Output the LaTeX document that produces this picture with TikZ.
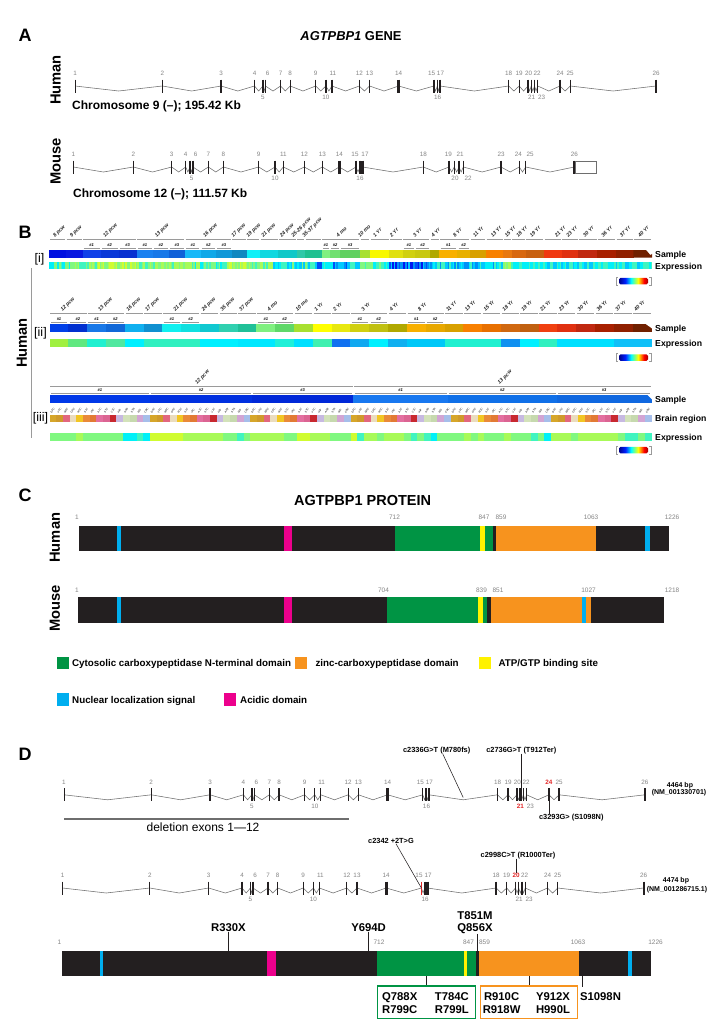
\documentclass[tikz,border=0pt]{standalone}
\usepackage{fontspec}
\setmainfont{Liberation Sans}
\usetikzlibrary{calc}
\definecolor{pblack}{HTML}{231F20}
\definecolor{pgreen}{HTML}{009444}
\definecolor{porange}{HTML}{F7931E}
\definecolor{pyellow}{HTML}{FFF200}
\definecolor{pblue}{HTML}{00AEEF}
\definecolor{pmag}{HTML}{EC008C}
\definecolor{exgray}{HTML}{858585}
\definecolor{intgray}{HTML}{6E6E6E}
\definecolor{lngray}{HTML}{9A9A9A}
\definecolor{mred}{HTML}{E32626}
\definecolor{jetA}{HTML}{00008C}
\definecolor{jetB}{HTML}{0020FF}
\definecolor{jetR}{HTML}{A00000}
\definecolor{lev0}{HTML}{0018F0}
\definecolor{lev1}{HTML}{0050F8}
\definecolor{lev2}{HTML}{0090F8}
\definecolor{lev3}{HTML}{00C8FF}
\definecolor{lev4}{HTML}{00F0F8}
\definecolor{lev5}{HTML}{40F4C0}
\definecolor{lev6}{HTML}{80F880}
\definecolor{lev7}{HTML}{A8FA58}
\definecolor{lev8}{HTML}{D0FC30}
\definecolor{lev9}{HTML}{F8F800}
\definecolor{br0}{HTML}{D6A62A}
\definecolor{br1}{HTML}{CF9A2C}
\definecolor{br2}{HTML}{E2677F}
\definecolor{br3}{HTML}{EADCBE}
\definecolor{br4}{HTML}{F2C624}
\definecolor{br5}{HTML}{E98A3A}
\definecolor{br6}{HTML}{E27A34}
\definecolor{br7}{HTML}{E36FA0}
\definecolor{br8}{HTML}{DB6492}
\definecolor{br9}{HTML}{C8282F}
\definecolor{br10}{HTML}{C7B9E1}
\definecolor{br11}{HTML}{D3E2BA}
\definecolor{br12}{HTML}{C6D9AE}
\definecolor{br13}{HTML}{D2A5D4}
\definecolor{br14}{HTML}{A6BEEA}
\colorlet{bXV}{pblack}
\colorlet{lXX}{exgray}
\colorlet{lXXI}{exgray}
\colorlet{lXXIV}{exgray}
\def\fN{m}
\def\fXX{m}
\def\fXXI{m}
\def\fXXIV{m}
\pgfdeclarehorizontalshading{jet}{100bp}{color(0bp)=(jetA); color(25bp)=(jetA); color(36bp)=(jetB); color(46bp)=(cyan); color(58bp)=(yellow); color(68bp)=(red); color(75bp)=(jetR); color(100bp)=(jetR)}
\newcommand\fs[1]{\fontsize{#1}{#1}\selectfont}
\newcommand\brlab[1]{\ifcase#1 DFC\or VFC\or MFC\or OFC\or M1C\or S1C\or IPC\or A1C\or STC\or V1C\or HIP\or AMY\or STR\or MD\or CBC\fi}
\tikzset{
 exlab/.style={font=\fs{6.3}, text=exgray, inner sep=0pt, anchor=base},
 intron/.style={draw=intgray, line width=0.55pt},
 panel/.style={font=\fs{18}\bfseries, inner sep=0pt, anchor=base west},
 species/.style={font=\fs{14.7}\bfseries, rotate=90, inner sep=0pt},
 chrom/.style={font=\fs{12}\bfseries, inner sep=0pt, anchor=base west},
 title/.style={font=\fs{14}\bfseries, inner sep=0pt, anchor=base},
 age/.style={font=\fs{5.2}\bfseries\itshape, text=black!85, rotate=45, anchor=base west, inner sep=0pt},
 hashlab/.style={font=\fs{4}\bfseries\itshape, anchor=base, inner sep=0pt},
 brl/.style={font=\fs{2.6}, rotate=55, anchor=base west, inner sep=0pt},
 rowlab/.style={font=\fs{8.7}\bfseries, anchor=base west, inner sep=0pt},
 grpline/.style={draw=lngray, line width=0.6pt},
 romlab/.style={font=\fs{12.5}, inner sep=0pt, anchor=base},
 numlab/.style={font=\fs{6.5}, text=exgray, inner sep=0pt, anchor=base},
 legtext/.style={font=\fs{9.8}\bfseries, anchor=base west, inner sep=0pt},
 mutsmall/.style={font=\fs{7.4}\bfseries, inner sep=0pt, anchor=base},
 mutbig/.style={font=\fs{11.3}\bfseries, inner sep=0pt, anchor=base},
 conn/.style={draw=pblack, line width=0.55pt},
}
\def\humanlist{75.1/75.1/1/t/1.0/pblack/exgray/\fN,%
162.3/162.3/2/t/1.3/pblack/exgray/\fN,%
221.1/221.1/3/t/1.3/pblack/exgray/\fN,%
254.5/254.5/4/t/1.3/pblack/exgray/\fN,%
262.9/262.9/5/b/1.6/pblack/exgray/\fN,%
265.5/267.5/6/t/1.6/pblack/exgray/\fN,%
280.5/280.5/7/t/1.3/pblack/exgray/\fN,%
290.2/290.2/8/t/1.3/pblack/exgray/\fN,%
315.7/315.7/9/t/1.3/pblack/exgray/\fN,%
325.9/325.9/10/b/1.3/pblack/exgray/\fN,%
331.9/332.8/11/t/1.3/pblack/exgray/\fN,%
359.3/359.3/12/t/1.3/pblack/exgray/\fN,%
369.5/369.5/13/t/1.3/pblack/exgray/\fN,%
398.7/398.7/14/t/3.0/pblack/exgray/\fN,%
433.9/431.5/15/t/1.3/bXV/exgray/\fN,%
437.3/437.6/16/b/1.5/pblack/exgray/\fN,%
440.0/440.5/17/t/2.4/pblack/exgray/\fN,%
508.6/508.6/18/t/1.3/pblack/exgray/\fN,%
519.2/519.2/19/t/1.3/pblack/exgray/\fN,%
528.0/528.5/20/t/1.3/pblack/lXX/\fXX,%
531.2/531.5/21/b/1.3/pblack/lXXI/\fXXI,%
534.5/537.2/22/t/1.3/pblack/exgray/\fN,%
537.7/541.5/23/b/1.3/pblack/exgray/\fN,%
560.0/560.0/24/t/1.3/pblack/lXXIV/\fXXIV,%
570.2/570.2/25/t/1.3/pblack/exgray/\fN,%
656.0/656.0/26/t/2.0/pblack/exgray/\fN}
\def\mouselist{73.3/73.3/1/t/1.0/pblack/exgray/\fN,%
133.3/133.3/2/t/1.3/pblack/exgray/\fN,%
171.7/171.7/3/t/1.3/pblack/exgray/\fN,%
185.7/185.7/4/t/1.3/pblack/exgray/\fN,%
190.0/191.5/5/b/1.3/pblack/exgray/\fN,%
192.9/195.7/6/t/1.3/pblack/exgray/\fN,%
208.3/208.3/7/t/1.3/pblack/exgray/\fN,%
223.3/223.3/8/t/1.3/pblack/exgray/\fN,%
258.7/258.7/9/t/1.3/pblack/exgray/\fN,%
275.0/275.0/10/b/1.3/pblack/exgray/\fN,%
283.3/283.3/11/t/1.3/pblack/exgray/\fN,%
304.3/304.3/12/t/1.3/pblack/exgray/\fN,%
322.3/322.3/13/t/1.3/pblack/exgray/\fN,%
339.3/339.3/14/t/3.5/pblack/exgray/\fN,%
356.0/355.0/15/t/1.3/pblack/exgray/\fN,%
360.0/360.0/16/b/1.5/pblack/exgray/\fN,%
362.7/365.0/17/t/2.5/pblack/exgray/\fN,%
423.3/423.3/18/t/1.3/pblack/exgray/\fN,%
449.0/448.3/19/t/1.3/pblack/exgray/\fN,%
454.3/455.0/20/b/1.3/pblack/exgray/\fN,%
459.0/460.0/21/t/1.3/pblack/exgray/\fN,%
463.3/468.0/22/b/1.3/pblack/exgray/\fN,%
501.0/501.0/23/t/1.3/pblack/exgray/\fN,%
519.3/518.3/24/t/1.3/pblack/exgray/\fN,%
525.7/530.0/25/t/1.3/pblack/exgray/\fN,%
574.3/574.3/26/t/2.0/pblack/exgray/\fN}
\newcommand\drawgene[4]{%
  \foreach \ex/\lx/\lab/\pos/\w/\bc/\lc/\fw [remember=\ex as \lastx (initially #3)] in \exlist {%
    \draw[intron] ({\lastx+#1},#2) -- ({(\lastx+\ex)/2+#1},{#2+5}) -- ({\ex+#1},#2);
  }%
  \foreach \ex/\lx/\lab/\pos/\w/\bc/\lc/\fw in \exlist {%
    \draw[draw=\bc, line width=\w pt] ({\ex+#1},{#2-6.5}) coordinate (#4e\lab-t) -- ({\ex+#1},{#2+6.5}) coordinate (#4e\lab-b);
    \coordinate (#4e\lab) at ({\ex+#1},#2);
    \if\pos t\relax
      \node[exlab, text=\lc] (#4l\lab) at ({\lx+#1},{#2-10.6}) {\fontseries{\fw}\selectfont\lab};
    \else
      \node[exlab, text=\lc] (#4l\lab) at ({\lx+#1},{#2+13.3}) {\fontseries{\fw}\selectfont\lab};
    \fi
  }%
}
\newcommand\stripes[6]{%
  \pgfmathtruncatemacro\nst{(#2-#1)/1.6}%
  \foreach \i in {0,...,\nst}{%
    \pgfmathrandominteger{\lv}{#5}{#6}%
    \pgfmathsetmacro\xa{#1+\i*1.6}%
    \pgfmathsetmacro\xb{min(\xa+1.75,#2)}%
    \fill[lev\lv] (\xa,#3) rectangle (\xb,#4);
  }%
}
\newcommand\scalebar[1]{%
  \shade[shading=jet, rounded corners=1.5pt] (619,#1) rectangle (648,{#1+6.5});
  \draw[lngray, line width=0.6pt] (617.6,{#1-0.8}) -- (616,{#1-0.8}) -- (616,{#1+7.3}) -- (617.6,{#1+7.3});
  \draw[lngray, line width=0.6pt] (649.4,{#1-0.8}) -- (651,{#1-0.8}) -- (651,{#1+7.3}) -- (649.4,{#1+7.3});
}
\begin{document}
\begin{tikzpicture}[x=1pt,y=-1pt]
\useasboundingbox (0,0) rectangle (727,1029);
\fill[white] (0,0) rectangle (727,1029);
\pgfmathsetseed{12}
% ================= A
\node[panel] (pA) at (18.5,41) {A};
\node[title, font=\fs{12.9}\bfseries] (tA) at (351,40) {\textit{AGTPBP1} GENE};
\node[species] (hA) at (55.6,80) {Human};
\node[species] (mA) at (55.6,161.5) {Mouse};
\let\exlist\humanlist
\drawgene{0}{86}{75.1}{Ha}
\node[chrom] (chA) at (72,109.5) {Chromosome 9 (–); 195.42 Kb};
\let\exlist\mouselist
\drawgene{0}{167}{73.3}{Mo}
\draw[draw=intgray, fill=white, line width=0.6pt] (575.2,161.5) rectangle (596,172.8);
\node[chrom] (chM) at (73,197) {Chromosome 12 (–); 111.57 Kb};
% ================= B
\node[panel] (pB) at (18.5,238) {B};
\node[species] (hB) at (22,343) {Human};
\draw[lngray, line width=0.7pt] (31.5,268) coordinate (vlA) -- (31.5,438) coordinate (vlB);
\node[romlab] (ri) at (39.5,262.5) {[i]};
\node[romlab] (rii) at (40.5,336.5) {[ii]};
\node[romlab] (riii) at (40.5,421.5) {[iii]};
% row i sample
\foreach \xa/\xb/\hx in {49.3/66/0010E0, 66/82.7/0818E0, 82.7/100.7/1040E8, 100.7/118.7/0A38D8, 118.7/136.7/0830D0,
 136.7/152.8/1A80F0, 152.8/168.9/1878E8, 168.9/185/1060D8, 185/200.6/18B8F8, 200.6/216.2/10A8E8, 216.2/231.7/1098D8,
 231.7/246.7/1088C0, 246.7/260/10F0F8, 260/278.3/10D8E0, 278.3/296.7/10C8C8, 296.7/305/30C8A8, 305/321.7/20C090,
 321.7/330/80F080, 330/340/70E070, 340/360/60D060, 360/370/A8E030, 370/389.3/F8F800, 389.3/402.7/E0E010,
 402.7/415/D0D010, 415/430/C8C810, 430/439.3/B0A800, 439.3/457.3/F8B000, 457.3/470/E8B000, 470/486/D8A000,
 486/503.3/F88000, 503.3/511.7/E87810, 511.7/525.7/D86810, 525.7/544/C86010, 544/561.7/F03810, 561.7/578.3/E03010,
 578.3/597.3/C02810, 597.3/616/A82000, 616/633.3/902000}
 {\definecolor{tmpc}{HTML}{\hx}\fill[tmpc] (\xa,250) rectangle ({\xb+0.3},257.7);}
\definecolor{sfortyi}{HTML}{702000}
\fill[sfortyi] (633.3,250) -- (646,250) -- (650.5,255.2) -- (652,253.8) -- (652,257.7) -- (633.3,257.7) -- cycle;
\foreach \xa/\xb/\lx/\lab [count=\k] in {49.3/66/55/8 pcw, 66/82.7/71.7/9 pcw, 82.7/136.7/105/12 pcw,
 136.7/185/156.7/13 pcw, 185/231.7/205/16 pcw, 231.7/246.7/233.3/17 pcw, 246.7/260/248.3/19 pcw,
 260/278.3/263.3/21 pcw, 278.3/296.7/281.7/24 pcw, 296.7/305/293.3/25-26 pcw, 305/321.7/304.3/35-37 pcw,
 321.7/360/338.3/4 mo, 360/370/360/10 mo, 370/389.3/375/1 Yr, 389.3/402.7/391.7/2 Yr, 402.7/430/415/3 Yr,
 430/439.3/433.3/4 Yr, 439.3/470/455/8 Yr, 470/486/475/11 Yr, 486/503.3/492.7/13 Yr, 503.3/511.7/506.7/15 Yr,
 511.7/525.7/518.3/18 Yr, 525.7/544/531.7/19 Yr, 544/561.7/556.7/21 Yr, 561.7/578.3/568.3/23 Yr,
 578.3/597.3/585/30 Yr, 597.3/616/603.3/36 Yr, 616/633.3/621.7/37 Yr, 633.3/652/640/40 Yr}
 {\draw[grpline] ({\xa+0.7},239.3) -- ({\xb-0.7},239.3); \node[age] (ai\k) at (\lx,237.6) {\lab};}
\foreach \xa/\xb/\hn [count=\k] in {82.7/100.7/1, 100.7/118.7/2, 118.7/136.7/3, 136.7/152.8/1, 152.8/168.9/2,
 168.9/185/3, 185/200.6/1, 200.6/216.2/2, 216.2/231.7/3, 321.7/330/1, 330/340/2, 340/360/3, 402.7/415/1,
 415/430/2, 439.3/457.3/1, 457.3/470/2}
 {\node[hashlab] (hi\k) at ({(\xa+\xb)/2},246.2) {\#\hn}; \draw[grpline] ({\xa+1.2},247.8) -- ({\xb-1.2},247.8);}
% row i expression
\stripes{49.3}{73}{262.3}{269}{4}{6}
\stripes{73}{98}{262.3}{269}{5}{7}
\stripes{98}{137}{262.3}{269}{6}{8}
\stripes{137}{190}{262.3}{269}{5}{7}
\stripes{190}{227}{262.3}{269}{4}{7}
\stripes{227}{247}{262.3}{269}{6}{8}
\stripes{247}{273}{262.3}{269}{5}{7}
\stripes{273}{317}{262.3}{269}{3}{6}
\stripes{317}{322}{262.3}{269}{1}{2}
\stripes{322}{333}{262.3}{269}{4}{5}
\stripes{333}{347}{262.3}{269}{1}{3}
\stripes{347}{360}{262.3}{269}{3}{5}
\stripes{360}{389}{262.3}{269}{4}{6}
\stripes{389}{427}{262.3}{269}{0}{3}
\stripes{427}{503}{262.3}{269}{2}{5}
\stripes{503}{511}{262.3}{269}{6}{7}
\stripes{511}{547}{262.3}{269}{4}{5}
\stripes{547}{651.7}{262.3}{269}{3}{5}
\node[rowlab] (si) at (655,257) {Sample};
\node[rowlab] (ei) at (655,269.3) {Expression};
\scalebar{277.8}
% row ii
\foreach \hx [count=\i from 0] in {0040E8,0030D0,1878E8,1068D8,10B0F0,1090D0,10F0F0,10E0E0,10C8D0,30D0B0,20C098,80F080,60D868,A8E030,FFFF00,E8E810,D0D010,C0C010,B0A800,F8B000,E8A800,D8A000,F88000,E87000,D06810,C06010,F04010,E03010,C02810,A82000,902000,702000}
 {\definecolor{tmpc}{HTML}{\hx}\fill[tmpc] ({49.6+\i*18.806},324.3) rectangle ({49.6+(\i+1)*18.806+0.3},332);}
\fill[white] (645.5,323.8) -- (652.5,323.8) -- (652.5,328.8) -- cycle;
\foreach \hx [count=\i from 0] in {A0F040,60E880,20F0D0,50E8A0,00F0FF,30F0C0,30F0C0,30F0C0,00F0FF,00F0FF,00E8FF,00E8FF,20F0D8,00E0FF,40F0B0,1070F0,10A8F0,00F0FF,10B0F0,00C8F8,00C8F8,20F0D0,20F0D0,20F0D0,1090F0,00F0FF,30F0C0,00E0FF,00E0FF,00E0FF,10C0F8,10C0F8}
 {\definecolor{tmpc}{HTML}{\hx}\fill[tmpc] ({49.6+\i*18.806},339.3) rectangle ({49.6+(\i+1)*18.806+0.3},347);}
\foreach \sa/\sb/\lab [count=\k] in {0/1/12 pcw, 2/3/13 pcw, 4/4/16 pcw, 5/5/17 pcw, 6/7/21 pcw, 8/8/24 pcw,
 9/9/35 pcw, 10/10/37 pcw, 11/12/4 mo, 13/13/10 mo, 14/14/1 Yr, 15/15/2 Yr, 16/17/3 Yr, 18/18/4 Yr, 19/20/8 Yr,
 21/21/11 Yr, 22/22/13 Yr, 23/23/15 Yr, 24/24/18 Yr, 25/25/19 Yr, 26/26/21 Yr, 27/27/23 Yr, 28/28/30 Yr,
 29/29/36 Yr, 30/30/37 Yr, 31/31/40 Yr}
 {\pgfmathsetmacro\xa{49.6+\sa*18.806}\pgfmathsetmacro\xb{49.6+(\sb+1)*18.806}
  \draw[grpline] ({\xa+0.7},313.7) -- ({\xb-0.7},313.7);
  \node[age] (aii\k) at ({(\xa+\xb)/2-6},312.1) {\lab};}
\foreach \sa/\hn [count=\k] in {0/1,1/2,2/1,3/2,6/1,7/2,11/1,12/2,16/1,17/2,19/1,20/2}
 {\pgfmathsetmacro\xa{49.6+\sa*18.806}
  \node[hashlab] (hii\k) at ({\xa+9.4},320.3) {\#\hn};
  \draw[grpline] ({\xa+1.2},321.9) -- ({\xa+17.6},321.9);}
\node[rowlab] (sii) at (655,331.3) {Sample};
\node[rowlab] (eii) at (655,346.3) {Expression};
\scalebar{354.3}
% row iii
\foreach \xa/\xb/\hx/\hn [count=\k] in {49.6/150.1/0038E8/1, 150.1/252.1/0030E0/2, 252.1/353.3/0028D8/3,
 353.3/447.9/1878F0/1, 447.9/556.7/1070E8/2, 556.7/651.4/1068E0/3}
 {\definecolor{tmpc}{HTML}{\hx}\fill[tmpc] (\xa,395) rectangle ({\xb+0.3},402.7);
  \node[hashlab] (hiii\k) at ({(\xa+\xb)/2},391.2) {\#\hn};
  \draw[grpline] ({\xa+1.2},392.8) -- ({\xb-1.2},392.8);}
\fill[white] (647,394.5) -- (652.2,394.5) -- (652.2,399.5) -- cycle;
\draw[grpline] (50.3,386) -- (352.6,386);
\draw[grpline] (354,386) -- (650.7,386);
\node[age] (aiii1) at (197,384.5) {12 pcw};
\node[age] (aiii2) at (499.5,384.5) {13 pcw};
\foreach \i in {0,...,89}
 {\pgfmathtruncatemacro\k{mod(\i,15)}\pgfmathsetmacro\xa{49.6+\i*6.687}
  \fill[br\k] (\xa,414.7) rectangle ({\xa+6.687+0.25},422.3);
  \node[brl] (bl\i) at ({\xa+2.2},413.4) {\brlab{\k}};}
\foreach \lv [count=\i from 0] in {6,6,6,6,7,6,6,6,6,6,6,4,4,5,4,8,8,8,8,8,7,7,7,7,7,7,6,6,5,6,7,7,7,7,7,6,6,8,8,7,7,7,6,6,6,8,5,7,7,6,7,7,7,6,5,6,5,4,6,6,6,6,7,6,7,6,6,6,7,6,6,6,5,6,4,7,7,7,6,7,7,7,7,7,7,6,5,5,6,5}
 {\pgfmathsetmacro\xa{49.6+\i*6.687}\fill[lev\lv] (\xa,433) rectangle ({\xa+6.687+0.25},440.7);}
\node[rowlab] (siii) at (655,402.3) {Sample};
\node[rowlab] (biii) at (655,421.8) {Brain region};
\node[rowlab] (eiii) at (655,440.3) {Expression};
\scalebar{446.8}
% ================= C
\node[panel] (pC) at (18.5,501.7) {C};
\node[title, font=\fs{14.5}\bfseries] (tC) at (362.6,505) {AGTPBP1 PROTEIN};
\node[species] (hC) at (55,537.7) {Human};
\node[species] (mC) at (55,608.5) {Mouse};
\fill[pblack] (78.8,525.7) rectangle (668.5,550.7);
\fill[pblue] (117.3,525.7) rectangle (121,550.7);
\fill[pmag] (284.2,525.7) rectangle (292,550.7);
\fill[pgreen] (394.5,525.7) rectangle (492.8,550.7);
\fill[pyellow] (480.3,525.7) rectangle (485,550.7);
\fill[porange] (496,525.7) rectangle (595.7,550.7);
\fill[pblue] (645.3,525.7) rectangle (650,550.7);
\node[numlab] (nh1) at (77,519.5) {1};
\node[numlab] (nh2) at (394.5,519.5) {712};
\node[numlab] (nh3) at (484,519.5) {847};
\node[numlab] (nh4) at (501,519.5) {859};
\node[numlab] (nh5) at (591,519.5) {1063};
\node[numlab] (nh6) at (672,519.5) {1226};
\fill[pblack] (77.9,597.3) rectangle (664.3,622.7);
\fill[pblue] (116.8,597.3) rectangle (120.5,622.7);
\fill[pmag] (284,597.3) rectangle (292,622.7);
\fill[pgreen] (387,597.3) rectangle (486.8,622.7);
\fill[pyellow] (478.4,597.3) rectangle (483,622.7);
\fill[porange] (490.5,597.3) rectangle (591,622.7);
\fill[pblue] (581.8,597.3) rectangle (585.5,622.7);
\node[numlab] (nm1) at (77,592) {1};
\node[numlab] (nm2) at (383.5,592) {704};
\node[numlab] (nm3) at (481.5,592) {839};
\node[numlab] (nm4) at (498,592) {851};
\node[numlab] (nm5) at (588.5,592) {1027};
\node[numlab] (nm6) at (672,592) {1218};
\fill[pgreen] (56.6,656.7) rectangle (68.6,669);
\node[legtext] (lg1) at (71.9,666.4) {Cytosolic carboxypeptidase N-terminal domain};
\fill[porange] (295.3,656.7) rectangle (307.4,669);
\node[legtext] (lg2) at (315.3,666.4) {zinc-carboxypeptidase domain};
\fill[pyellow] (479,656.7) rectangle (490.5,669);
\node[legtext] (lg3) at (498.4,666.4) {ATP/GTP binding site};
\fill[pblue] (56.6,693.3) rectangle (68.6,705.7);
\node[legtext] (lg4) at (72,703) {Nuclear localization signal};
\fill[pmag] (224,693.3) rectangle (236,705.7);
\node[legtext] (lg5) at (240,703) {Acidic domain};
% ================= D
\node[panel] (pD) at (18.5,760) {D};
\colorlet{lXXIV}{mred}\colorlet{lXXI}{mred}\def\fXXIV{b}\def\fXXI{b}
\let\exlist\humanlist
\drawgene{-11.1}{794.8}{75.1}{Da}
\node[mutsmall] (mA1) at (436.7,752) {c2336G>T (M780fs)};
\coordinate (mA1e) at (463.2,797.5);
\draw[conn] ([xshift=6pt]mA1.south) -- (mA1e);
\node[mutsmall] (mA2) at (521.3,752) {c2736G>T (T912Ter)};
\coordinate (mA2e) at (521.3,800.5);
\draw[conn] (mA2.south) -- (mA2e);
\node[mutsmall] (mA3) at (571.3,819.5) {c3293G> (S1098N)};
\draw[conn] (Dae24-b) -- (Dae24-b |- mA3.north);
\node[mutsmall, font=\fs{7}\bfseries] (bpA) at (680,787.5) {4464 bp};
\node[mutsmall, font=\fs{7}\bfseries] (nmA) at (679,794.8) {(NM\_001330701)};
\coordinate (delA) at (64,819);
\coordinate (delB) at (348.6,819);
\draw[intgray, line width=1.5pt] (delA) -- (delB);
\node[inner sep=0pt, anchor=base, font=\fs{12}] (delT) at (203,831) {deletion exons 1—12};
\colorlet{lXXIV}{exgray}\colorlet{lXXI}{exgray}\def\fXXIV{m}\def\fXXI{m}
\colorlet{lXX}{mred}\colorlet{bXV}{mred}\def\fXX{b}
\drawgene{-12.5}{888}{75.1}{Db}
\node[mutsmall] (mB1) at (391,843.5) {c2342 +2T>G};
\draw[conn] ([xshift=5pt]mB1.south) -- (Dbe15);
\node[mutsmall] (mB2) at (518,857) {c2998C>T (R1000Ter)};
\draw[conn] (Dbl20.north |- mB2.south) -- (Dbl20.north);
\node[mutsmall, font=\fs{7}\bfseries] (bpB) at (676,882.5) {4474 bp};
\node[mutsmall, font=\fs{7}\bfseries] (nmB) at (677,891.5) {(NM\_001286715.1)};
% protein D
\node[fill=pblack, minimum width=589.7pt, minimum height=25pt, inner sep=0pt] (pbar) at (356.55,963.5) {};
\fill[pblue] (99.7,951) rectangle (103,976);
\fill[pmag] (266.6,951) rectangle (275.8,976);
\fill[pgreen] (377,951) rectangle (476,976);
\fill[pyellow] (463.6,951) rectangle (467.3,976);
\fill[porange] (479,951) rectangle (578.6,976);
\fill[pblue] (628,951) rectangle (632,976);
\node[numlab] (nd1) at (59.5,944.5) {1};
\node[numlab] (nd2) at (379,944.5) {712};
\node[numlab] (nd3) at (468.5,944.5) {847};
\node[numlab] (nd4) at (484.5,944.5) {859};
\node[numlab] (nd5) at (578,944.5) {1063};
\node[numlab] (nd6) at (655.5,944.5) {1226};
\node[mutbig] (mR) at (228.5,931.5) {R330X};
\draw[conn] (mR.south) -- (mR.south |- pbar.north);
\node[mutbig] (mY) at (368.6,931.5) {Y694D};
\draw[conn] (mY.south) -- (mY.south |- pbar.north);
\node[mutbig] (mT) at (475,919) {T851M};
\node[mutbig] (mQ) at (475,931.5) {Q856X};
\draw[conn] ([xshift=2.5pt]mQ.south) -- ([xshift=2.5pt]mQ.south |- pbar.north);
\node[draw=pgreen, line width=1.3pt, minimum width=97.4pt, minimum height=32.3pt, inner sep=0pt] (gbox) at (426.5,1002.15) {};
\node[draw=porange, line width=1.3pt, minimum width=96.4pt, minimum height=32.3pt, inner sep=0pt] (obox) at (529,1002.15) {};
\draw[conn] (gbox.north |- pbar.south) -- (gbox.north);
\draw[conn] (obox.north |- pbar.south) -- (obox.north);
\node[mutbig] (g1) at (399.7,1000) {Q788X};
\node[mutbig] (g2) at (451.8,1000) {T784C};
\node[mutbig] (g3) at (399.7,1013.3) {R799C};
\node[mutbig] (g4) at (451.8,1013.3) {R799L};
\node[mutbig] (o1) at (501.6,1000) {R910C};
\node[mutbig] (o2) at (553,1000) {Y912X};
\node[mutbig] (o3) at (501.6,1013.3) {R918W};
\node[mutbig] (o4) at (553,1013.3) {H990L};
\node[mutbig] (mS) at (600.5,1000) {S1098N};
\coordinate (sTop) at (581.8,987);
\draw[conn] (sTop |- pbar.south) -- (sTop);
\end{tikzpicture}
\end{document}
